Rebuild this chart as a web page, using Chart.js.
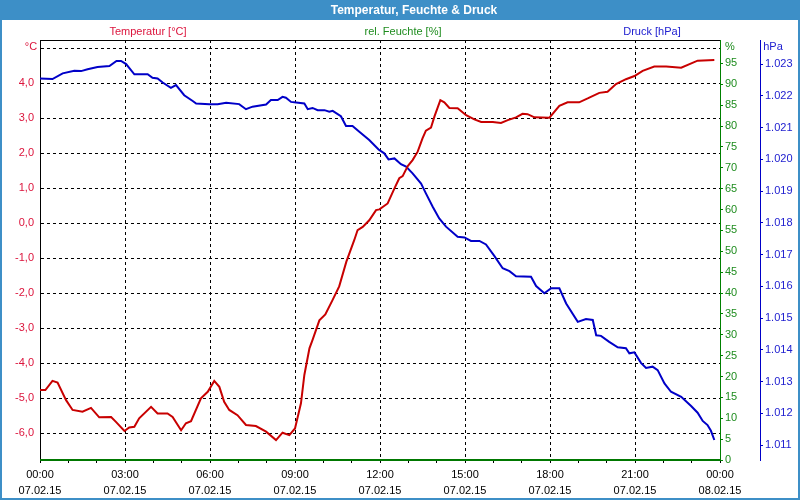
<!DOCTYPE html>
<html>
<head>
<meta charset="utf-8">
<title>Temperatur, Feuchte & Druck</title>
<script src="https://cdn.jsdelivr.net/npm/chart.js@4"></script>
<style>
  body { margin: 0; width: 800px; height: 500px; position: relative; overflow: hidden; background: #fff;
         font-family: 'Liberation Sans', Arial, sans-serif; }
  #frame { position: absolute; left: 0; top: 0; width: 796px; height: 498px; border: 2px solid #3d8fc7; border-top: 0; }
  #titlebar { position: absolute; left: 0; top: 0; width: 800px; height: 20px; background: #3d8fc7; }
  #wrap { position: absolute; left: 0; top: 0; width: 800px; height: 500px; }
  .lbl { position: absolute; font-size: 11px; white-space: nowrap; transform: translate(-50%, -50%); z-index: 2; }
  #title { color: #fff; font-weight: bold; font-size: 12px; }
</style>
</head>
<body>
<div id="frame"></div>
<div id="titlebar"></div>
<div class="lbl" id="title" style="left:414px; top:10px;">Temperatur, Feuchte &amp; Druck</div>
<div class="lbl" style="left:148px; top:31px; color:#dc143c;">Temperatur [°C]</div>
<div class="lbl" style="left:403px; top:31px; color:#1e8c1e;">rel. Feuchte [%]</div>
<div class="lbl" style="left:652px; top:31px; color:#2020d0;">Druck [hPa]</div>
<div class="lbl" style="left:31px; top:46px; color:#dc143c;">°C</div>
<div class="lbl" style="left:730px; top:46px; color:#1e8c1e;">%</div>
<div class="lbl" style="left:773px; top:46px; color:#2020d0;">hPa</div>
<div id="wrap"><canvas id="chart" width="800" height="500"></canvas></div>
<script>
// Zeit in Stunden ab 07.02.15 00:00
const tempHours = [0, 0.19, 0.44, 0.62, 0.92, 1.15, 1.5, 1.8, 2.09, 2.51, 2.68, 2.98, 3.15, 3.33, 3.5, 3.92,
  4.15, 4.5, 4.68, 4.98, 5.15, 5.33, 5.68, 5.92, 6.15, 6.33, 6.5, 6.68, 6.97, 7.27, 7.62, 7.98, 8.33, 8.56,
  8.8, 9.0, 9.21, 9.33, 9.51, 9.62, 9.86, 10.07, 10.32, 10.56, 10.81, 11.09, 11.21, 11.39, 11.62, 11.86,
  11.98, 12.27, 12.51, 12.68, 12.8, 12.98, 13.15, 13.33, 13.5, 13.62, 13.8, 13.92, 14.13, 14.27, 14.45,
  14.74, 15.04, 15.33, 15.57, 15.98, 16.27, 16.51, 16.8, 17.03, 17.21, 17.45, 17.98, 18.33, 18.62, 19.03,
  19.33, 19.74, 20.03, 20.33, 20.68, 20.98, 21.27, 21.68, 22.1, 22.63, 23.21, 23.8];
const tempValues = [-4.76, -4.76, -4.5, -4.55, -5.05, -5.33, -5.38, -5.27, -5.54, -5.53, -5.67, -5.93, -5.83,
  -5.81, -5.57, -5.24, -5.43, -5.43, -5.53, -5.91, -5.71, -5.65, -5.0, -4.81, -4.5, -4.67, -5.1, -5.33, -5.48,
  -5.76, -5.79, -5.95, -6.19, -5.98, -6.05, -5.86, -5.14, -4.33, -3.57, -3.33, -2.77, -2.6, -2.2, -1.8, -1.1,
  -0.48, -0.19, -0.1, 0.09, 0.38, 0.4, 0.57, 1.0, 1.29, 1.35, 1.64, 1.81, 2.05, 2.43, 2.65, 2.74, 3.05, 3.52,
  3.46, 3.3, 3.29, 3.09, 2.97, 2.9, 2.9, 2.87, 2.95, 3.03, 3.13, 3.12, 3.03, 3.02, 3.36, 3.46, 3.46, 3.57,
  3.73, 3.76, 3.98, 4.12, 4.21, 4.36, 4.48, 4.48, 4.45, 4.65, 4.67];

const humHours = [0, 3, 6, 9, 12, 15, 18, 21, 24];
const humValues = [0, 0, 0, 0, 0, 0, 0, 0, 0];

const pressHours = [0, 0.44, 0.8, 1.21, 1.45, 1.68, 2.03, 2.45, 2.7, 2.86, 3.04, 3.33, 3.8, 3.97, 4.15, 4.33,
  4.62, 4.8, 5.09, 5.39, 5.51, 5.98, 6.27, 6.57, 7.03, 7.27, 7.5, 7.98, 8.15, 8.39, 8.56, 8.68, 8.86, 9.04,
  9.33, 9.45, 9.62, 9.8, 10.04, 10.21, 10.33, 10.62, 10.8, 11.03, 11.27, 11.62, 11.95, 12.15, 12.3, 12.51,
  12.74, 12.92, 13.15, 13.45, 13.62, 13.86, 14.09, 14.33, 14.74, 14.98, 15.21, 15.51, 15.74, 16.04, 16.33,
  16.57, 16.8, 17.33, 17.51, 17.8, 18.04, 18.33, 18.57, 18.98, 19.27, 19.51, 19.63, 19.8, 20.09, 20.39,
  20.68, 20.8, 20.98, 21.21, 21.39, 21.62, 21.8, 22.04, 22.27, 22.63, 22.98, 23.21, 23.39, 23.56, 23.68, 23.8];
const pressValues = [1022.55, 1022.53, 1022.71, 1022.79, 1022.78, 1022.84, 1022.91, 1022.94, 1023.1, 1023.1,
  1023.0, 1022.68, 1022.68, 1022.57, 1022.55, 1022.42, 1022.25, 1022.34, 1022.02, 1021.84, 1021.76, 1021.74,
  1021.74, 1021.78, 1021.74, 1021.58, 1021.66, 1021.73, 1021.87, 1021.87, 1021.97, 1021.94, 1021.81, 1021.79,
  1021.76, 1021.58, 1021.62, 1021.55, 1021.55, 1021.5, 1021.53, 1021.36, 1021.05, 1021.05, 1020.87, 1020.61,
  1020.31, 1020.19, 1020.0, 1020.03, 1019.85, 1019.77, 1019.56, 1019.24, 1018.93, 1018.51, 1018.14, 1017.88,
  1017.56, 1017.54, 1017.43, 1017.43, 1017.32, 1016.95, 1016.57, 1016.48, 1016.32, 1016.3, 1016.01, 1015.78,
  1015.94, 1015.94, 1015.46, 1014.88, 1014.97, 1014.94, 1014.46, 1014.44, 1014.25, 1014.08, 1014.05, 1013.89,
  1013.92, 1013.59, 1013.43, 1013.47, 1013.36, 1012.94, 1012.68, 1012.52, 1012.23, 1012.02, 1011.76, 1011.63,
  1011.45, 1011.16];

const hourTicks = Array.from({ length: 25 }, (_, i) => i);
const timeLabels = ['00:00', '03:00', '06:00', '09:00', '12:00', '15:00', '18:00', '21:00', '00:00'];
const dateLabels = ['07.02.15', '07.02.15', '07.02.15', '07.02.15', '07.02.15', '07.02.15', '07.02.15', '07.02.15', '08.02.15'];
const tempTicks = [-6, -5, -4, -3, -2, -1, 0, 1, 2, 3, 4, 5];
const humTicks = [0, 5, 10, 15, 20, 25, 30, 35, 40, 45, 50, 55, 60, 65, 70, 75, 80, 85, 90, 95];
const pressTicks = [1011, 1012, 1013, 1014, 1015, 1016, 1017, 1018, 1019, 1020, 1021, 1022, 1023];

const pts = (xs, ys) => xs.map((x, i) => ({ x, y: ys[i] }));

Chart.defaults.font.family = "'Liberation Sans', Arial, sans-serif";
Chart.defaults.font.size = 11;

const topLine = {
  id: 'topLine',
  beforeDatasetsDraw(chart) {
    const { ctx, chartArea: a } = chart;
    ctx.save();
    ctx.strokeStyle = '#000';
    ctx.lineWidth = 1;
    ctx.beginPath();
    ctx.moveTo(a.left, a.top + 0.5);
    ctx.lineTo(a.right, a.top + 0.5);
    ctx.stroke();
    ctx.restore();
  }
};

new Chart(document.getElementById('chart'), {
  type: 'line',
  data: {
    datasets: [
      { label: 'Temperatur [°C]', data: pts(tempHours, tempValues), yAxisID: 'y',
        borderColor: '#c80000', borderWidth: 2, pointRadius: 0 },
      { label: 'rel. Feuchte [%]', data: pts(humHours, humValues), yAxisID: 'y1',
        borderColor: '#007800', borderWidth: 2, pointRadius: 0, clip: false },
      { label: 'Druck [hPa]', data: pts(pressHours, pressValues), yAxisID: 'y2',
        borderColor: '#0000c8', borderWidth: 2, pointRadius: 0 }
    ]
  },
  options: {
    responsive: false,
    animation: false,
    events: [],
    layout: { padding: { top: 40, left: 0, right: 0, bottom: 0 } },
    plugins: { legend: { display: false }, tooltip: { enabled: false } },
    scales: {
      x: {
        type: 'linear', min: 0, max: 24,
        afterFit: s => { s.height = 40; },
        afterBuildTicks: s => { s.ticks = hourTicks.map(v => ({ value: v })); },
        ticks: {
          autoSkip: false, maxRotation: 0, minRotation: 0, padding: 4, color: '#000',
          font: { size: 11, lineHeight: 1.45 },
          callback: v => v % 3 === 0 ? [timeLabels[v / 3], dateLabels[v / 3]] : ''
        },
        grid: {
          color: c => (c.tick && c.tick.value % 3 === 0) ? '#000' : 'rgba(0,0,0,0)',
          tickColor: '#000', tickLength: 3, tickBorderDash: []
        },
        border: { color: '#000', dash: [3, 3] }
      },
      y: {
        position: 'left', min: -6.76, max: 5.24,
        afterFit: s => { s.width = 40; },
        afterBuildTicks: s => { s.ticks = tempTicks.map(v => ({ value: v })); },
        ticks: { color: '#dc143c', padding: 6, callback: v => v === 5 ? '' : v.toFixed(1).replace('.', ',') },
        grid: { color: '#000', drawTicks: false },
        border: { color: '#000', dash: [3, 3] }
      },
      y1: {
        position: 'right', weight: 0, min: 0, max: 100.6,
        afterFit: s => { s.width = 40; },
        afterBuildTicks: s => { s.ticks = humTicks.map(v => ({ value: v })); },
        ticks: { color: '#1e8c1e', padding: 2 },
        grid: { drawOnChartArea: false, color: '#008000', tickLength: 3 },
        border: { color: '#008000' }
      },
      y2: {
        position: 'right', weight: 1, min: 1010.53, max: 1023.76,
        afterFit: s => { s.width = 40; },
        afterBuildTicks: s => { s.ticks = pressTicks.map(v => ({ value: v })); },
        ticks: { color: '#2020d0', padding: 2, callback: v => (v / 1000).toFixed(3) },
        grid: { drawOnChartArea: false, color: '#0000c8', tickLength: 3 },
        border: { color: '#0000c8' }
      }
    }
  },
  plugins: [topLine]
});
</script>
</body>
</html>
